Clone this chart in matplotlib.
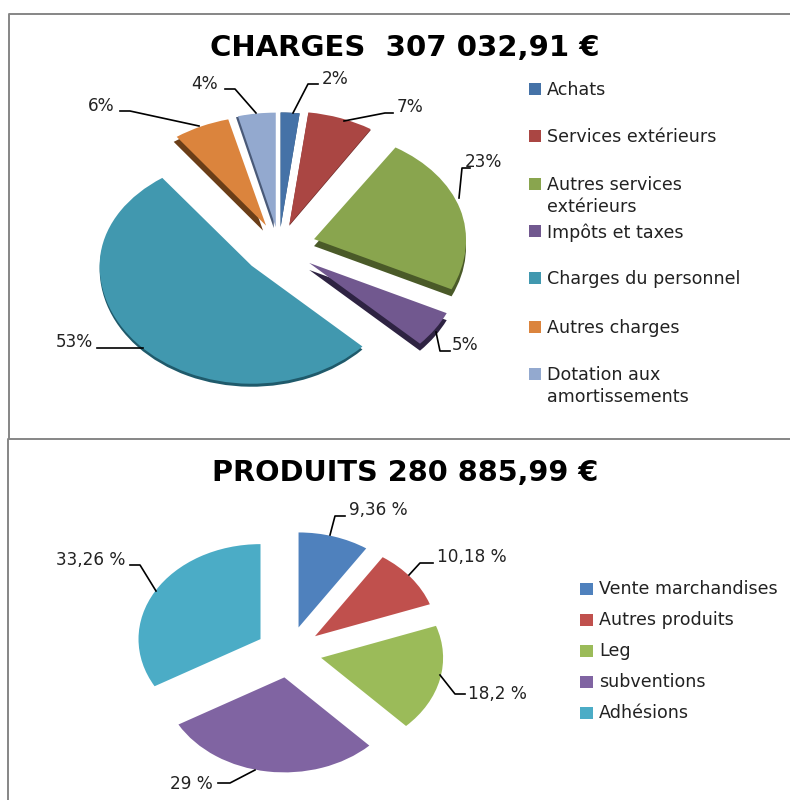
import matplotlib as mpl
mpl.use('Agg')
import matplotlib.pyplot as plt
from matplotlib.patches import Rectangle, PathPatch
from matplotlib.path import Path

W = 790
H = 800

# charges
charges_title = 'CHARGES  307 032,91 €'
charges_names = ['Achats', 'Services extérieurs', 'Autres services\nextérieurs', 'Impôts et taxes',
                 'Charges du personnel', 'Autres charges', 'Dotation aux\namortissements']
charges_vals = [2, 7, 23, 5, 53, 6, 4]
charges_labels = ['2%', '7%', '23%', '5%', '53%', '6%', '4%']
charges_colors = ['#4572A7', '#AA4643', '#89A54E', '#71588F', '#4198AF', '#DB843D', '#93A9CF']
charges_dark = ['#2C4A6E', '#6E2D2B', '#4A5A28', '#2E2342', '#1F5A6B', '#6B3E18', '#4A5A78']
charges_shift = [(0, 0), (0, -1), (0, -7), (0, -7), (0, -3), (-3, -5), (-2, -1)]
charges_expl = [0.17, 0.2, 0.24, 0.24, 0.24, 0.2, 0.17]
charges_squash = [0.97, 0.96, 0.92, 1, 0.92, 0.93, 0.97]

# produits
produits_title = 'PRODUITS 280 885,99 €'
produits_names = ['Vente marchandises', 'Autres produits', 'Leg', 'subventions', 'Adhésions']
produits_vals = [9.36, 10.18, 18.2, 29, 33.26]
produits_labels = ['9,36 %', '10,18 %', '18,2 %', '29 %', '33,26 %']
produits_colors = ['#4F81BD', '#C0504D', '#9BBB59', '#8064A2', '#4BACC6']
produits_expl = [0.27] * 5


def flatten_top(ax, wedge, s, dx=0.0, dy=0.0):
    # the original is a 3d pie seen from above, far edge looks shorter
    path = wedge.get_path().transformed(wedge.get_patch_transform())
    verts = path.vertices.copy()
    y0 = wedge.center[1]
    upper = verts[:, 1] > y0
    verts[upper, 1] = y0 + (verts[upper, 1] - y0) * s
    verts[:, 0] += dx
    verts[:, 1] += dy
    ax.add_patch(PathPatch(Path(verts, path.codes), facecolor=wedge.get_facecolor(), lw=0))
    wedge.remove()


def draw_pie(vals, colors, cx, cy, rx, ry, expl, dark=None, shift=None, squash=None):
    # axes sized in pixels so the circle comes out as an ellipse
    span = 1.7
    ax = fig.add_axes([(cx - span * rx) / W, 1 - (cy + span * ry) / H, 2 * span * rx / W, 2 * span * ry / H])
    ax.axis('off')
    if squash is None:
        squash = [1] * len(vals)
    if dark is not None:
        wedges, _ = ax.pie(vals, colors=dark, startangle=90, counterclock=False, explode=expl)
        for w, s, q in zip(wedges, shift, squash):
            flatten_top(ax, w, q, s[0] / rx, s[1] / ry)
    wedges, _ = ax.pie(vals, colors=colors, startangle=90, counterclock=False, explode=expl)
    for w, q in zip(wedges, squash):
        flatten_top(ax, w, q)
    ax.set_aspect('auto')
    ax.set_xlim(-span, span)
    ax.set_ylim(-span, span)


fig = plt.figure(figsize=(W / 100, H / 100), dpi=100)
plt.rcParams['font.family'] = ['DejaVu Sans']

draw_pie(charges_vals, charges_colors, 279, 247, 152, 118, charges_expl, charges_dark, charges_shift, charges_squash)
draw_pie(produits_vals, produits_colors, 289, 652, 122, 95, produits_expl)

# overlay in picture pixels for frames, leaders, text
ov = fig.add_axes([0, 0, 1, 1])
ov.set_xlim(0, W)
ov.set_ylim(H, 0)
ov.axis('off')
ov.patch.set_alpha(0)

frame = '#868686'
ov.plot([790, 9, 9], [14, 14, 438], color=frame, lw=1.4)
ov.plot([790, 8, 8], [439, 439, 800], color=frame, lw=1.4)

ov.text(405, 48, charges_title, ha='center', va='center', fontsize=21, fontweight='bold', color='black')
ov.text(405, 473, produits_title, ha='center', va='center', fontsize=20.7, fontweight='bold', color='black')

charges_leaders = [
    ([293, 308, 318], [113, 84, 84]),
    ([344, 385, 393], [121, 113, 113]),
    ([459, 462, 470], [198, 168, 168]),
    ([436, 440, 450], [332, 351, 351]),
    ([97, 143, 143], [348, 348, 348]),
    ([120, 130, 199], [111, 111, 126]),
    ([225, 235, 256], [89, 89, 113]),
]
charges_pos = [(335, 79), (410, 107), (483, 162), (465, 345), (74, 342), (101, 106), (205, 84)]
produits_leaders = [
    ([330, 335, 345], [535, 516, 516]),
    ([409, 420, 433], [575, 563, 563]),
    ([440, 455, 465], [675, 694, 694]),
    ([218, 230, 255], [783, 783, 770]),
    ([130, 140, 156], [565, 565, 591]),
]
produits_pos = [(378, 510), (472, 557), (497, 694), (191, 784), (91, 560)]

for (xs, ys), pos, lab in zip(charges_leaders, charges_pos, charges_labels):
    ov.plot(xs, ys, color='black', lw=1.2)
    ov.text(pos[0], pos[1], lab, ha='center', va='center', fontsize=12.2, color='#222222')
for (xs, ys), pos, lab in zip(produits_leaders, produits_pos, produits_labels):
    ov.plot(xs, ys, color='black', lw=1.2)
    ov.text(pos[0], pos[1], lab, ha='center', va='center', fontsize=12.2, color='#222222')

charges_ly = [89, 136, 184, 231, 278, 327, 374]
for y, name, c in zip(charges_ly, charges_names, charges_colors):
    ov.add_patch(Rectangle((529, y - 6), 12, 12, color=c, lw=0))
    ov.text(547, y - 8, name, ha='left', va='top', fontsize=12.6, color='#222222', linespacing=1.3)

produits_ly = [589, 620, 651, 682, 713]
for y, name, c in zip(produits_ly, produits_names, produits_colors):
    ov.add_patch(Rectangle((580, y - 6), 13, 12, color=c, lw=0))
    ov.text(599, y, name, ha='left', va='center', fontsize=12.6, color='#222222')

fig.savefig('out.png', dpi=100)
